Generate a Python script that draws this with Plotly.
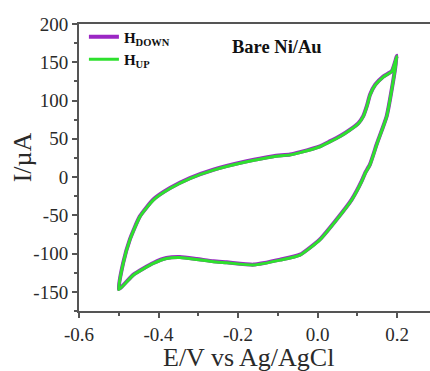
import plotly.graph_objects as go

# Anodic sweep (-0.5 -> 0.2 V)
e_fwd = [-0.500, -0.489, -0.472, -0.447, -0.413, -0.371, -0.321, -0.262, -0.178, -0.111,
         -0.069, -0.044, 0.006, 0.031, 0.057, 0.082, 0.103, 0.115, 0.124, 0.132,
         0.145, 0.166, 0.187, 0.200]
i_fwd = [-147, -113, -82, -52, -30, -15, -2, 9, 20, 26.6,
         29, 32, 39.6, 46, 53, 61.4, 70, 79, 92, 107,
         120, 131, 138, 158]
# Cathodic sweep (0.2 -> -0.5 V)
e_rev = [0.200, 0.191, 0.174, 0.150, 0.132, 0.120, 0.111, 0.086, 0.048, 0.006,
         -0.044, -0.094, -0.161, -0.228, -0.262, -0.304, -0.346, -0.380, -0.413,
         -0.463, -0.500]
i_rev = [158, 127, 79, 44, 16, 5, -6, -30, -56, -82,
         -102, -108.5, -115, -112, -110.7, -107.6, -105, -106.3, -112.8,
         -128, -147]

series_names = ["<b>H<sub>DOWN</sub></b>", "<b>H<sub>UP</sub></b>"]
series_colors = ["#9b27c4", "#2ee02e"]
series_widths = [4, 3]
series_offsets = [0.6, 0.0]

x_ticks = [-0.6, -0.4, -0.2, 0.0, 0.2]
x_tick_text = ["-0.6", "-0.4", "-0.2", "0.0", "0.2"]
y_ticks = [-150, -100, -50, 0, 50, 100, 150, 200]
y_tick_text = ["-150", "-100", "-50", "0", "50", "100", "150", "200"]

e_all = e_fwd + e_rev[1:]
i_all = i_fwd + i_rev[1:]

fig = go.Figure()
for name, col, w, off in zip(series_names, series_colors, series_widths, series_offsets):
    fig.add_trace(go.Scatter(
        x=e_all, y=[v + off for v in i_all], mode="lines", name=name,
        line=dict(color=col, width=w, shape="spline", smoothing=0.5),
    ))

font_fam = "Liberation Serif"
axis_col = "#555555"
txt_col = "#2a2a2a"
fig.update_layout(
    width=430, height=371,
    margin=dict(l=79, r=0, t=24, b=60),
    paper_bgcolor="white", plot_bgcolor="white",
    font=dict(family=font_fam, color=txt_col),
    showlegend=True,
    legend=dict(x=0.014, y=1.012, xanchor="left", yanchor="top",
                bgcolor="rgba(0,0,0,0)", font=dict(size=15, family=font_fam, color="#111"),
                tracegroupgap=0, itemwidth=30),
    annotations=[
        dict(text="<b>Bare Ni/Au</b>", x=0.564, y=0.961, xref="paper", yref="paper",
             showarrow=False, font=dict(size=18.5, family=font_fam, color="#111")),
        dict(text="E/V vs Ag/AgCl", x=0.484, y=-0.161, xref="paper", yref="paper",
             xanchor="center", yanchor="middle", showarrow=False,
             font=dict(size=26, family=font_fam, color=txt_col)),
        dict(text="I/µA", x=-0.160, y=0.535, xref="paper", yref="paper", textangle=-90,
             xanchor="center", yanchor="middle", showarrow=False,
             font=dict(size=26, family=font_fam, color=txt_col)),
    ],
)
fig.update_xaxes(
    range=[-0.6, 0.283], tickvals=x_ticks, ticktext=x_tick_text, automargin=False,
    showline=True, linecolor=axis_col, linewidth=2, mirror=True,
    ticks="outside", ticklen=5, tickwidth=1.5, tickcolor=axis_col,
    minor=dict(dtick=0.1, tick0=-0.6, ticks="outside", ticklen=3, tickcolor=axis_col),
    showgrid=False, zeroline=False,
    tickfont=dict(size=19, family=font_fam, color=txt_col),
)
fig.update_yaxes(
    range=[-175, 200], tickvals=y_ticks, ticktext=y_tick_text, automargin=False,
    showline=True, linecolor=axis_col, linewidth=2,
    ticks="outside", ticklen=5, tickwidth=1.5, tickcolor=axis_col,
    minor=dict(dtick=25, tick0=0, ticks="outside", ticklen=3, tickcolor=axis_col),
    showgrid=False, zeroline=False,
    tickfont=dict(size=19, family=font_fam, color=txt_col),
)
fig.write_html("out.html", config={"displayModeBar": False},
               post_script="document.body.style.margin='0px';document.body.style.overflow='hidden';")
